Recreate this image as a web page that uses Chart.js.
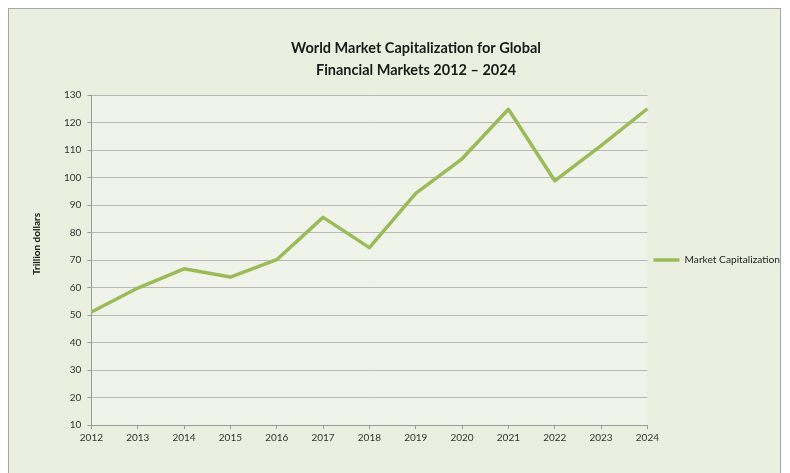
<!DOCTYPE html>
<html>
<head>
<meta charset="utf-8">
<script src="https://cdn.jsdelivr.net/npm/chart.js@4.4.1/dist/chart.umd.min.js"></script>
<style>
  html, body { margin: 0; padding: 0; background: #fff; }
  #frame {
    position: absolute; left: 8px; top: 8px; width: 771px; height: 480px;
    border: 1px solid #a6a6a6; background: #ebefdf;
  }
  #myChart { position: absolute; left: 0; top: 0; }
</style>
</head>
<body>
<div id="frame"></div>
<canvas id="myChart" width="790" height="473"></canvas>
<script>
// values
const years = ['2012', '2013', '2014', '2015', '2016', '2017', '2018', '2019', '2020', '2021', '2022', '2023', '2024']
const marketCap = [51.1, 59.8, 66.8, 63.8, 70.1, 85.5, 74.5, 94.2, 106.8, 124.8, 98.8, 111.6, 125.0]
const seriesName = 'Market Capitalization'
const titleLines = ['World Market Capitalization for Global', 'Financial Markets 2012 \u2013 2024']
const yTitle = 'Trillion dollars'

const FONT = 'Lato, "Open Sans", sans-serif'
const green = '#9bbb59'

// plot area fill + titles
const decor = {
  id: 'decor',
  beforeDraw(chart) {
    const { ctx, chartArea: a } = chart
    ctx.save()
    ctx.fillStyle = '#f0f3ea'
    ctx.fillRect(a.left, a.top, a.right - a.left, a.bottom - a.top)
    ctx.restore()
  },
  afterDraw(chart) {
    const ctx = chart.ctx
    ctx.save()
    ctx.fillStyle = '#1a1a1a'
    ctx.textAlign = 'center'
    ctx.textBaseline = 'middle'
    ctx.font = 'bold 14.5px ' + FONT
    ctx.fillText(titleLines[0], 416, 48)
    ctx.fillText(titleLines[1], 416, 70)
    ctx.font = 'bold 10px ' + FONT
    ctx.translate(37, 244)
    ctx.rotate(-Math.PI / 2)
    ctx.fillText(yTitle, 0, 0)
    ctx.restore()
  }
}

const ctx = document.getElementById('myChart')

const myChart = new Chart(ctx, {
  type: 'line',
  data: {
    labels: years,
    datasets: [{
      label: seriesName,
      data: marketCap,
      borderColor: green,
      backgroundColor: green,
      borderWidth: 3.5,
      borderJoinStyle: 'round',
      tension: 0,
      pointRadius: 0,
      pointHoverRadius: 0
    }]
  },
  options: {
    responsive: false,
    animation: false,
    layout: { padding: { left: 58, right: 0, top: 95, bottom: 26 } },
    plugins: {
      legend: {
        position: 'right',
        fullSize: false,
        labels: {
          usePointStyle: true,
          pointStyle: 'line',
          pointStyleWidth: 26,
          padding: 6,
          color: '#262626',
          font: { family: FONT, size: 10.2 }
        }
      },
      tooltip: { enabled: false }
    },
    scales: {
      x: {
        grid: { drawOnChartArea: false, tickLength: 4, tickColor: '#9a9a9a' },
        border: { color: '#9a9a9a' },
        ticks: { color: '#333', padding: 3, maxRotation: 0, autoSkip: false, font: { family: FONT, size: 10 } }
      },
      y: {
        min: 10,
        max: 130,
        grid: { color: '#b8b8b8', tickLength: 4, tickColor: '#9a9a9a' },
        border: { color: '#9a9a9a' },
        ticks: { stepSize: 10, color: '#333', padding: 6, font: { family: FONT, size: 10 } }
      }
    }
  },
  plugins: [decor]
})
</script>
</body>
</html>
